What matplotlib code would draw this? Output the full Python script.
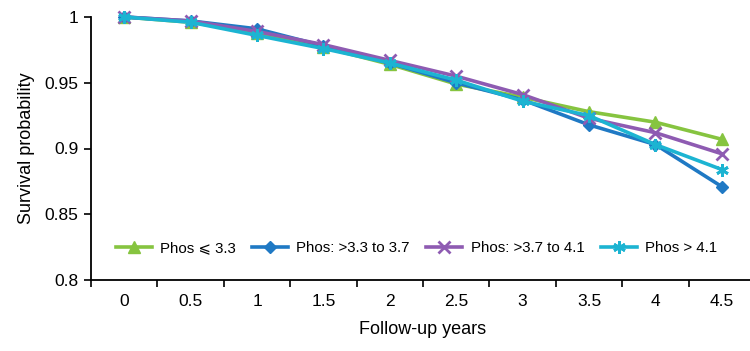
import numpy as np
import matplotlib
matplotlib.use("Agg")
import matplotlib.pyplot as plt

plt.rcParams["font.family"] = ["Liberation Sans", "DejaVu Sans"]

# ── Data ──────────────────────────────────────────────────────
years = ["0", "0.5", "1", "1.5", "2", "2.5", "3", "3.5", "4", "4.5"]

phos_le_33   = [1.000, 0.996, 0.988, 0.977, 0.964, 0.949, 0.939, 0.928, 0.920, 0.907]
phos_33_37   = [1.000, 0.997, 0.991, 0.978, 0.965, 0.950, 0.937, 0.918, 0.903, 0.871]
phos_37_41   = [1.000, 0.997, 0.989, 0.979, 0.967, 0.955, 0.941, 0.923, 0.912, 0.896]
phos_gt_41   = [1.000, 0.996, 0.986, 0.976, 0.965, 0.952, 0.936, 0.925, 0.903, 0.884]

labels  = ["Phos \u2a7d 3.3", "Phos: >3.3 to 3.7", "Phos: >3.7 to 4.1", "Phos > 4.1"]
colors  = ["#86c440", "#1f79c4", "#8e5bb2", "#1cb4d2"]
markers = ["^", "D", "x", (6, 2, 0)]
msizes  = [8, 6, 9, 9]

series = [phos_le_33, phos_33_37, phos_37_41, phos_gt_41]

# ── Figure ────────────────────────────────────────────────────
fig = plt.figure(figsize=(7.5, 3.51), dpi=100)
ax = fig.add_axes([91 / 750, 1 - 280 / 351, 664 / 750, 263 / 351])

x = np.arange(len(years))
for vals, lab, c, m, ms in zip(series, labels, colors, markers, msizes):
    ax.plot(x, vals, color=c, linewidth=2.6, marker=m, markersize=ms,
            markeredgewidth=2 if m in ("x", (6, 2, 0)) else 1,
            markeredgecolor=c, label=lab, clip_on=False)

ax.set_xlim(-0.5, len(years) - 0.5)
ax.set_ylim(0.8, 1.0)
ax.set_yticks([0.8, 0.85, 0.9, 0.95, 1.0])
ax.set_yticklabels(["0.8", "0.85", "0.9", "0.95", "1"])
ax.set_xticks(x)
ax.set_xticklabels(years)
ax.set_xticks(np.arange(len(years)) - 0.5, minor=True)
ax.tick_params(axis="x", which="major", length=0, labelsize=12.5, pad=10)
ax.tick_params(axis="x", which="minor", length=5, width=1.2, direction="out")
ax.tick_params(axis="y", length=5, width=1.2, labelsize=12.5, pad=4,
               direction="out")

for s in ("top", "right"):
    ax.spines[s].set_visible(False)
for s in ("left", "bottom"):
    ax.spines[s].set_linewidth(1.3)

ax.set_xlabel("Follow-up years", fontsize=13, labelpad=9)
ax.set_ylabel("Survival probability", fontsize=13, labelpad=7)

ax.legend(loc="center", bbox_to_anchor=(0.49, 0.12), ncol=4, frameon=False,
          fontsize=10.8, handlelength=2.4, columnspacing=1.1,
          handletextpad=0.55)

fig.savefig("out.png", dpi=100)
